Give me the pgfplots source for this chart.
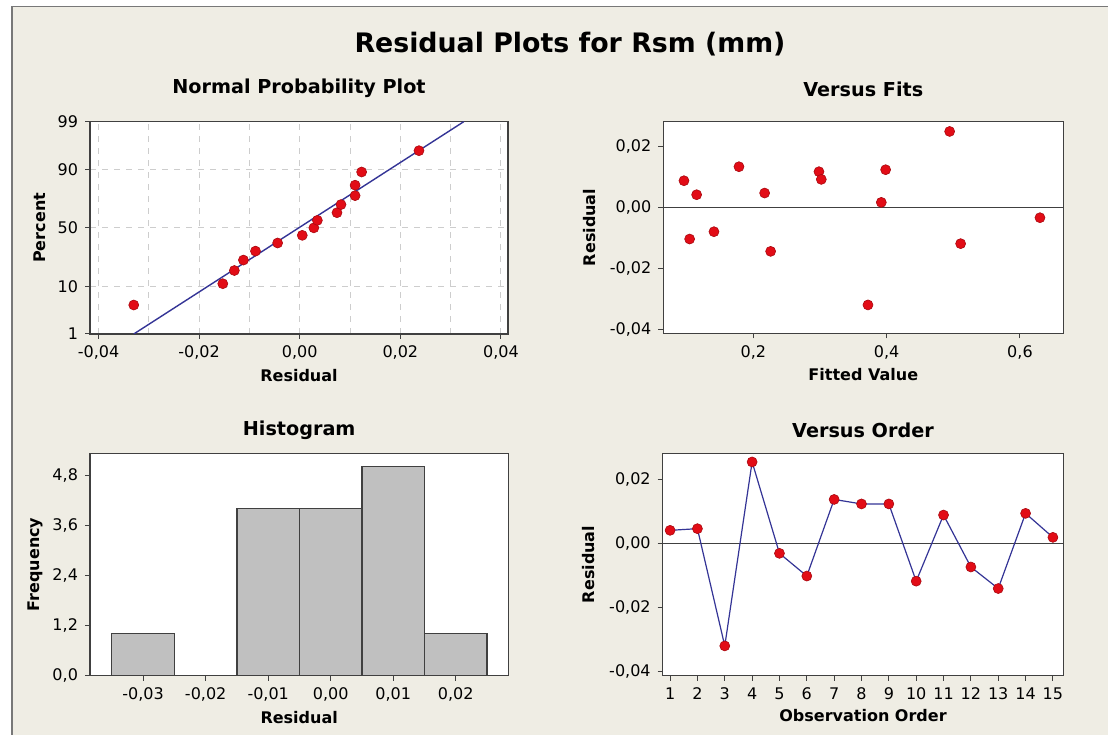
\documentclass[border=0pt]{standalone}
\usepackage{fontspec}
\setmainfont{DejaVu Sans}
\usepackage{pgfplots}
\pgfplotsset{compat=1.18}
\definecolor{bgc}{RGB}{239,237,228}
\definecolor{framec}{RGB}{64,64,64}
\definecolor{outerc}{RGB}{120,120,120}
\definecolor{ptred}{RGB}{226,12,22}
\definecolor{lineblue}{RGB}{52,52,150}
\definecolor{barc}{RGB}{192,192,192}
\definecolor{gridc}{RGB}{205,205,205}

\pgfplotsset{
  resid/.style={
    scale only axis,
    anchor=south west,
    scaled ticks=false,
    axis background/.style={fill=white},
    axis line style={draw=framec, line width=0.7pt},
    tick align=outside,
    major tick length=2.5pt,
    minor tick length=0pt,
    tick style={draw=framec, line width=0.5pt},
    xtick pos=bottom, ytick pos=left,
    ticklabel style={font=\fontsize{8}{9}\selectfont, text=black},
    label style={font=\bfseries\fontsize{8}{9}\selectfont},
    title style={font=\bfseries\fontsize{9.6}{11}\selectfont, anchor=center, at={(0.5,1)}, yshift=-6pt},
    xlabel style={at={(0.5,0)}, anchor=center},
    ylabel style={anchor=center},
    /pgf/number format/assume math mode=true,
  },
  ptmark/.style={only marks, mark=*, mark size=2.5pt, mark options={fill=ptred, draw=ptred!75!black, line width=0.3pt}},
}

\begin{document}
\begin{tikzpicture}
\useasboundingbox (0,0) rectangle (554pt,367pt);
\fill[white] (0,0) rectangle (554pt,367pt);
\fill[bgc] (5.85pt,-1pt) rectangle (555pt,363.65pt);
\draw[outerc, line width=0.8pt] (5.85pt,-1pt) -- (5.85pt,363.65pt) -- (555pt,363.65pt);
\node[font=\bfseries\fontsize{13.4}{15}\selectfont] at (285pt,345pt) {Residual Plots for Rsm (mm)};

% Normal probability plot
\begin{axis}[resid,
  at={(45pt,200pt)}, width=209pt, height=106.15pt,
  xmin=-0.0417, xmax=0.0414, ymin=-2.3263, ymax=2.3263,
  xtick={-0.04,-0.02,0,0.02,0.04},
  xticklabels={{-0,04},{-0,02},{0,00},{0,02},{0,04}},
  minor xtick={-0.03,-0.01,0.01,0.03},
  ytick={-2.3263,-1.2816,0,1.2816,2.3263},
  yticklabels={1,10,50,90,99},
  xmajorgrids, xminorgrids, ymajorgrids,
  grid style={dashed, gridc, line width=0.5pt},
  title={Normal Probability Plot}, title style={yshift=16.85pt},
  xlabel={Residual}, xlabel style={yshift=-21pt},
  ylabel={Percent}, ylabel style={at={(axis description cs:-0.12,0.5)}},
]
\addplot[lineblue, line width=0.7pt] coordinates {(-0.0330,-2.3263) (0.0326,2.3263)};
\addplot[ptmark] coordinates {
(-0.0330,-1.691) (-0.0153,-1.224) (-0.0130,-0.935) (-0.0112,-0.706) (-0.0088,-0.510)
(-0.0044,-0.332) (0.0005,-0.164) (0.0028,0.000) (0.0035,0.164) (0.0074,0.332)
(0.0082,0.510) (0.0110,0.706) (0.0110,0.935) (0.0123,1.224) (0.0237,1.691)};
\end{axis}

% Versus fits
\begin{axis}[resid,
  at={(331.65pt,200.35pt)}, width=200pt, height=105.8pt,
  xmin=0.065, xmax=0.665, ymin=-0.0413, ymax=0.0281,
  xtick={0.2,0.4,0.6}, xticklabels={{0,2},{0,4},{0,6}},
  ytick={-0.04,-0.02,0,0.02}, yticklabels={{-0,04},{-0,02},{0,00},{0,02}},
  title={Versus Fits}, title style={yshift=16.35pt},
  xlabel={Fitted Value}, xlabel style={yshift=-20.8pt},
  ylabel={Residual}, ylabel style={at={(axis description cs:-0.185,0.5)}},
]
\addplot[framec, line width=0.6pt] coordinates {(0.065,0) (0.665,0)};
\addplot[ptmark] coordinates {
(0.096,0.00874) (0.115,0.00415) (0.1045,-0.01038) (0.141,-0.00798) (0.1785,0.01333)
(0.217,0.0047) (0.226,-0.01443) (0.2985,0.0117) (0.302,0.00918) (0.372,-0.0320)
(0.392,0.00164) (0.3985,0.01235) (0.4945,0.0249) (0.511,-0.0119) (0.630,-0.00339)};
\end{axis}

% Histogram
\begin{axis}[resid,
  at={(45pt,29.15pt)}, width=209.15pt, height=111.2pt,
  xmin=-0.0385, xmax=0.0284, ymin=0, ymax=5.32,
  xtick={-0.03,-0.02,-0.01,0,0.01,0.02},
  xticklabels={{-0,03},{-0,02},{-0,01},{0,00},{0,01},{0,02}},
  ytick={0,1.2,2.4,3.6,4.8}, yticklabels={{0,0},{1,2},{2,4},{3,6},{4,8}},
  title={Histogram}, title style={yshift=11.65pt},
  xlabel={Residual}, xlabel style={yshift=-21pt},
  ylabel={Frequency}, ylabel style={at={(axis description cs:-0.1316,0.5)}},
]
\addplot[ybar interval, fill=barc, draw=framec, line width=0.6pt] coordinates {
(-0.035,1) (-0.025,0) (-0.015,4) (-0.005,4) (0.005,5) (0.015,1) (0.025,1)};
\end{axis}

% Versus order
\begin{axis}[resid,
  at={(331.35pt,29.15pt)}, width=200.3pt, height=111.2pt,
  xmin=0.73, xmax=15.38, ymin=-0.0413, ymax=0.0281,
  xtick={1,2,...,15},
  ytick={-0.04,-0.02,0,0.02}, yticklabels={{-0,04},{-0,02},{0,00},{0,02}},
  title={Versus Order}, title style={yshift=11.65pt},
  xlabel={Observation Order}, xlabel style={yshift=-19.7pt},
  ylabel={Residual}, ylabel style={at={(axis description cs:-0.1847,0.5)}},
]
\addplot[framec, line width=0.6pt] coordinates {(0.73,0) (15.38,0)};
\addplot[lineblue, line width=0.6pt, mark=*, mark size=2.5pt, mark options={fill=ptred, draw=ptred!75!black, line width=0.3pt}] coordinates {
(1,0.00406) (2,0.00458) (3,-0.0320) (4,0.0254) (5,-0.00312) (6,-0.0102) (7,0.0137)
(8,0.0123) (9,0.0123) (10,-0.0118) (11,0.00884) (12,-0.00738) (13,-0.0141) (14,0.00936) (15,0.00187)};
\end{axis}
\end{tikzpicture}
\end{document}
